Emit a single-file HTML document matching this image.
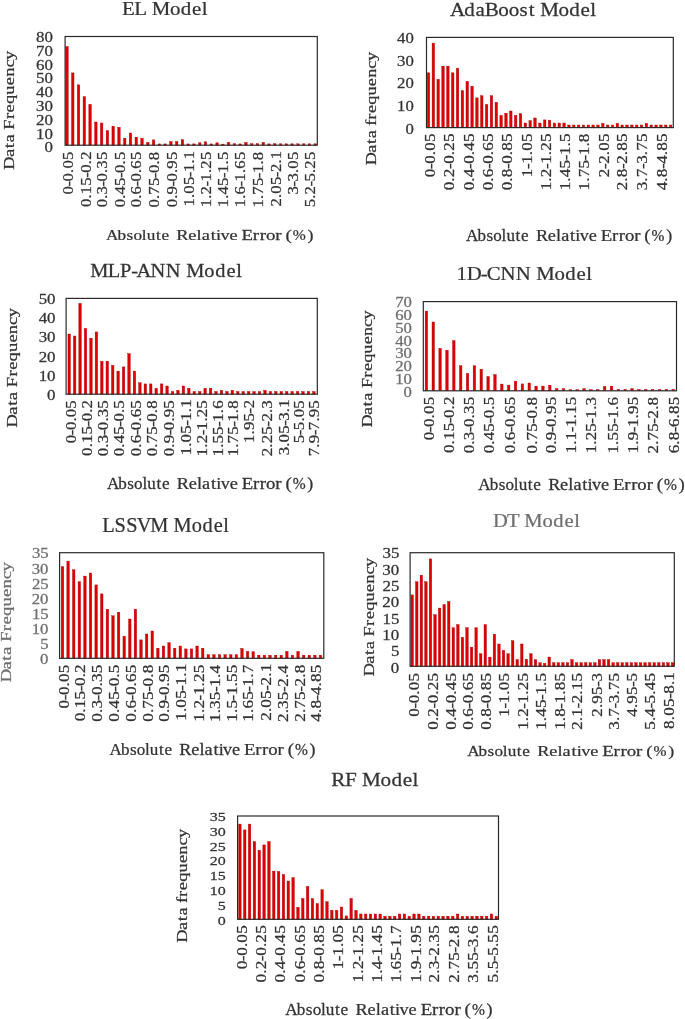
<!DOCTYPE html>
<html><head><meta charset="utf-8"><style>
html,body{margin:0;padding:0;background:#fff;}
svg{display:block;will-change:transform;}
text{font-family:"Liberation Serif",serif;white-space:pre;stroke-width:0.25px;}
rect{fill:#dc0000;stroke:#b00000;stroke-width:0.4;}
rect.bx{fill:none;stroke:#2a2a2a;stroke-width:1.2;}
</style></head><body>
<svg width="685" height="1019" viewBox="0 0 685 1019">
<rect x="65.75" y="46.5" width="2.5" height="98.7"/>
<rect x="71.52" y="72.9" width="2.5" height="72.3"/>
<rect x="77.29" y="84.8" width="2.5" height="60.4"/>
<rect x="83.07" y="96.7" width="2.5" height="48.5"/>
<rect x="88.84" y="104.3" width="2.5" height="40.9"/>
<rect x="94.61" y="122" width="2.5" height="23.2"/>
<rect x="100.38" y="123" width="2.5" height="22.2"/>
<rect x="106.15" y="130.6" width="2.5" height="14.6"/>
<rect x="111.93" y="126.2" width="2.5" height="19"/>
<rect x="117.7" y="127.3" width="2.5" height="17.9"/>
<rect x="123.47" y="138.2" width="2.5" height="7"/>
<rect x="129.24" y="133" width="2.5" height="12.2"/>
<rect x="135.02" y="137.2" width="2.5" height="8"/>
<rect x="140.79" y="138.3" width="2.5" height="6.9"/>
<rect x="146.56" y="142.4" width="2.5" height="2.8"/>
<rect x="152.33" y="139.9" width="2.5" height="5.3"/>
<rect x="158.1" y="143.9" width="2.5" height="1.3"/>
<rect x="163.88" y="143.9" width="2.5" height="1.3"/>
<rect x="169.65" y="141.5" width="2.5" height="3.7"/>
<rect x="175.42" y="141.5" width="2.5" height="3.7"/>
<rect x="181.19" y="139.6" width="2.5" height="5.6"/>
<rect x="186.96" y="143.9" width="2.5" height="1.3"/>
<rect x="192.74" y="143.9" width="2.5" height="1.3"/>
<rect x="198.51" y="142.8" width="2.5" height="2.4"/>
<rect x="204.28" y="141.8" width="2.5" height="3.4"/>
<rect x="210.05" y="143.9" width="2.5" height="1.3"/>
<rect x="215.82" y="142.8" width="2.5" height="2.4"/>
<rect x="221.6" y="144.1" width="2.5" height="1.1"/>
<rect x="227.37" y="142.4" width="2.5" height="2.8"/>
<rect x="233.14" y="143.7" width="2.5" height="1.5"/>
<rect x="238.91" y="143.9" width="2.5" height="1.3"/>
<rect x="244.68" y="142.4" width="2.5" height="2.8"/>
<rect x="250.46" y="143.7" width="2.5" height="1.5"/>
<rect x="256.23" y="143.7" width="2.5" height="1.5"/>
<rect x="262" y="142.4" width="2.5" height="2.8"/>
<rect x="267.77" y="143.9" width="2.5" height="1.3"/>
<rect x="273.55" y="143.7" width="2.5" height="1.5"/>
<rect x="279.32" y="143.8" width="2.5" height="1.4"/>
<rect x="285.09" y="143.8" width="2.5" height="1.4"/>
<rect x="290.86" y="143.8" width="2.5" height="1.4"/>
<rect x="296.63" y="143.8" width="2.5" height="1.4"/>
<rect x="302.41" y="143.8" width="2.5" height="1.4"/>
<rect x="308.18" y="143.8" width="2.5" height="1.4"/>
<rect x="313.95" y="143.8" width="2.5" height="1.4"/>
<rect class="bx" x="65.1" y="36.5" width="252.2" height="108.7"/>
<text x="113.35 124.64 136.08 140.75 157.68 167.74 178.25 187.24" y="0" transform="translate(0,14.8) scale(1.0774,1)" font-size="19.39" fill="#333" stroke="#333">EL Model</text>
<text x="36.29" y="0" transform="translate(0,152.38) scale(1.2270,1)" font-size="13.78" fill="#333" stroke="#333" stroke-width="0.15">0</text>
<text x="29.4 36.29" y="0" transform="translate(0,138.58) scale(1.2270,1)" font-size="13.78" fill="#333" stroke="#333" stroke-width="0.15">10</text>
<text x="29.4 36.29" y="0" transform="translate(0,124.78) scale(1.2270,1)" font-size="13.78" fill="#333" stroke="#333" stroke-width="0.15">20</text>
<text x="29.4 36.29" y="0" transform="translate(0,110.98) scale(1.2270,1)" font-size="13.78" fill="#333" stroke="#333" stroke-width="0.15">30</text>
<text x="29.4 36.29" y="0" transform="translate(0,97.18) scale(1.2270,1)" font-size="13.78" fill="#333" stroke="#333" stroke-width="0.15">40</text>
<text x="29.4 36.29" y="0" transform="translate(0,83.38) scale(1.2270,1)" font-size="13.78" fill="#333" stroke="#333" stroke-width="0.15">50</text>
<text x="29.4 36.29" y="0" transform="translate(0,69.58) scale(1.2270,1)" font-size="13.78" fill="#333" stroke="#333" stroke-width="0.15">60</text>
<text x="29.4 36.29" y="0" transform="translate(0,55.78) scale(1.2270,1)" font-size="13.78" fill="#333" stroke="#333" stroke-width="0.15">70</text>
<text x="29.4 36.29" y="0" transform="translate(0,41.98) scale(1.2270,1)" font-size="13.78" fill="#333" stroke="#333" stroke-width="0.15">80</text>
<text x="-1.27 8.37 15.02 19.34 25.73 29.14 37.15 42.25 48.63 55.69 62.88 69.28 76.29 82.08" y="0" transform="translate(14.2,168) rotate(-90) scale(1.3161,1)" font-size="14.05" fill="#333" stroke="#333">Data Frequency</text>
<text x="-0.7 6.46 11.11 18.77 22.67 30.38" y="0" transform="translate(73.07,193.7) rotate(-90) scale(1.1064,1)" font-size="15.02" fill="#333" stroke="#333" stroke-width="0.15">0-0.05</text>
<text x="-0.72 6.91 10.78 18.44 25.57 30.18 37.8 41.67" y="0" transform="translate(90.57,206.21) rotate(-90) scale(1.1130,1)" font-size="15.02" fill="#333" stroke="#333" stroke-width="0.15">0.15-0.2</text>
<text x="-0.72 6.91 10.78 17.9 22.51 30.14 34.01 41.67" y="0" transform="translate(107.07,206.49) rotate(-90) scale(1.1130,1)" font-size="15.02" fill="#333" stroke="#333" stroke-width="0.15">0.3-0.35</text>
<text x="-0.72 6.91 10.78 18.44 25.57 30.18 37.8 41.67" y="0" transform="translate(124.57,206.49) rotate(-90) scale(1.1130,1)" font-size="15.02" fill="#333" stroke="#333" stroke-width="0.15">0.45-0.5</text>
<text x="-0.72 6.91 10.78 17.9 22.51 30.14 34.01 41.67" y="0" transform="translate(141.37,206.49) rotate(-90) scale(1.1130,1)" font-size="15.02" fill="#333" stroke="#333" stroke-width="0.15">0.6-0.65</text>
<text x="-0.72 6.91 10.78 18.44 25.57 30.18 37.8 41.67" y="0" transform="translate(158.87,206.62) rotate(-90) scale(1.1130,1)" font-size="15.02" fill="#333" stroke="#333" stroke-width="0.15">0.75-0.8</text>
<text x="-0.72 6.91 10.78 17.9 22.51 30.14 34.01 41.67" y="0" transform="translate(176.57,206.49) rotate(-90) scale(1.1130,1)" font-size="15.02" fill="#333" stroke="#333" stroke-width="0.15">0.9-0.95</text>
<text x="-1.39 6.23 10.1 17.77 24.89 29.5 37.13 41" y="0" transform="translate(194.17,204.87) rotate(-90) scale(1.1130,1)" font-size="15.02" fill="#333" stroke="#333" stroke-width="0.15">1.05-1.1</text>
<text x="-1.39 6.23 10.1 17.22 21.84 29.46 33.33 41" y="0" transform="translate(210.87,205.74) rotate(-90) scale(1.1130,1)" font-size="15.02" fill="#333" stroke="#333" stroke-width="0.15">1.2-1.25</text>
<text x="-1.39 6.23 10.1 17.77 24.89 29.5 37.13 41" y="0" transform="translate(227.67,205.74) rotate(-90) scale(1.1130,1)" font-size="15.02" fill="#333" stroke="#333" stroke-width="0.15">1.45-1.5</text>
<text x="-1.39 6.23 10.1 17.22 21.84 29.46 33.33 41" y="0" transform="translate(245.17,205.74) rotate(-90) scale(1.1130,1)" font-size="15.02" fill="#333" stroke="#333" stroke-width="0.15">1.6-1.65</text>
<text x="-1.39 6.23 10.1 17.77 24.89 29.5 37.13 41" y="0" transform="translate(263.07,205.87) rotate(-90) scale(1.1130,1)" font-size="15.02" fill="#333" stroke="#333" stroke-width="0.15">1.75-1.8</text>
<text x="-0.74 6.89 10.76 18.42 25.54 30.16 37.78 41.65" y="0" transform="translate(281.07,205.6) rotate(-90) scale(1.1130,1)" font-size="15.02" fill="#333" stroke="#333" stroke-width="0.15">2.05-2.1</text>
<text x="-0.82 6.33 10.98 18.64 22.55 30.26" y="0" transform="translate(298.07,193.56) rotate(-90) scale(1.1064,1)" font-size="15.02" fill="#333" stroke="#333" stroke-width="0.15">3-3.05</text>
<text x="-0.95 6.68 10.55 17.67 22.29 29.91 33.78 41.45" y="0" transform="translate(315.47,206.24) rotate(-90) scale(1.1130,1)" font-size="15.02" fill="#333" stroke="#333" stroke-width="0.15">5.2-5.25</text>
<text x="94.19 104.35 112.36 118.45 125.87 130.17 138.37 143.27" y="0" transform="translate(0,239.6) scale(1.1268,1)" font-size="15.27" fill="#333" stroke="#333">Absolute</text>
<text x="147.07 157.04 163.91 168.27 175.67 180.11 183.85 191.38" y="0" transform="translate(0,239.6) scale(1.1991,1)" font-size="15.27" fill="#333" stroke="#333">Relative</text>
<text x="195.46 204.62 210.19 215.2 222.76" y="0" transform="translate(0,239.6) scale(1.2357,1)" font-size="15.27" fill="#333" stroke="#333">Error</text>
<text x="229" y="0" transform="translate(0,239.6) scale(1.2467,1)" font-size="15.27" fill="#333" stroke="#333">(</text>
<text x="286.69" y="0" transform="translate(0,239.6) scale(1.0213,1)" font-size="15.27" fill="#333" stroke="#333">%</text>
<text x="260.82" y="0" transform="translate(0,239.6) scale(1.1787,1)" font-size="15.27" fill="#333" stroke="#333">)</text>
<rect x="427.25" y="72.8" width="2.5" height="54.8"/>
<rect x="432.09" y="43.1" width="2.5" height="84.5"/>
<rect x="436.93" y="79.3" width="2.5" height="48.3"/>
<rect x="441.78" y="66.1" width="2.5" height="61.5"/>
<rect x="446.62" y="66.1" width="2.5" height="61.5"/>
<rect x="451.46" y="72.8" width="2.5" height="54.8"/>
<rect x="456.3" y="68.2" width="2.5" height="59.4"/>
<rect x="461.14" y="90.6" width="2.5" height="37"/>
<rect x="465.99" y="81.4" width="2.5" height="46.2"/>
<rect x="470.83" y="86.2" width="2.5" height="41.4"/>
<rect x="475.67" y="97.9" width="2.5" height="29.7"/>
<rect x="480.51" y="95.7" width="2.5" height="31.9"/>
<rect x="485.35" y="104.5" width="2.5" height="23.1"/>
<rect x="490.2" y="95.7" width="2.5" height="31.9"/>
<rect x="495.04" y="102.3" width="2.5" height="25.3"/>
<rect x="499.88" y="115.4" width="2.5" height="12.2"/>
<rect x="504.72" y="113.2" width="2.5" height="14.4"/>
<rect x="509.56" y="111" width="2.5" height="16.6"/>
<rect x="514.41" y="115.4" width="2.5" height="12.2"/>
<rect x="519.25" y="113.6" width="2.5" height="14"/>
<rect x="524.09" y="123" width="2.5" height="4.6"/>
<rect x="528.93" y="120.6" width="2.5" height="7"/>
<rect x="533.77" y="118" width="2.5" height="9.6"/>
<rect x="538.62" y="123" width="2.5" height="4.6"/>
<rect x="543.46" y="119.9" width="2.5" height="7.7"/>
<rect x="548.3" y="120.1" width="2.5" height="7.5"/>
<rect x="553.14" y="123" width="2.5" height="4.6"/>
<rect x="557.98" y="123" width="2.5" height="4.6"/>
<rect x="562.83" y="123" width="2.5" height="4.6"/>
<rect x="567.67" y="125" width="2.5" height="2.6"/>
<rect x="572.51" y="125" width="2.5" height="2.6"/>
<rect x="577.35" y="125" width="2.5" height="2.6"/>
<rect x="582.19" y="125" width="2.5" height="2.6"/>
<rect x="587.04" y="125" width="2.5" height="2.6"/>
<rect x="591.88" y="125" width="2.5" height="2.6"/>
<rect x="596.72" y="125" width="2.5" height="2.6"/>
<rect x="601.56" y="123.3" width="2.5" height="4.3"/>
<rect x="606.4" y="125" width="2.5" height="2.6"/>
<rect x="611.25" y="125" width="2.5" height="2.6"/>
<rect x="616.09" y="123.3" width="2.5" height="4.3"/>
<rect x="620.93" y="125" width="2.5" height="2.6"/>
<rect x="625.77" y="125" width="2.5" height="2.6"/>
<rect x="630.61" y="125" width="2.5" height="2.6"/>
<rect x="635.46" y="125" width="2.5" height="2.6"/>
<rect x="640.3" y="125" width="2.5" height="2.6"/>
<rect x="645.14" y="123.3" width="2.5" height="4.3"/>
<rect x="649.98" y="125" width="2.5" height="2.6"/>
<rect x="654.82" y="125" width="2.5" height="2.6"/>
<rect x="659.67" y="125" width="2.5" height="2.6"/>
<rect x="664.51" y="125" width="2.5" height="2.6"/>
<rect x="669.35" y="125" width="2.5" height="2.6"/>
<rect class="bx" x="426.5" y="37.4" width="246.8" height="90.2"/>
<text x="420.43 433.7 444.31 452.93 465.45 475.24 485.4 493.94 500.07 504.68 521.74 531.84 542.41 551.46" y="0" transform="translate(0,15.6) scale(1.0703,1)" font-size="19.69" fill="#333" stroke="#333">AdaBoost Model</text>
<text x="330.4" y="0" transform="translate(0,133.94) scale(1.2270,1)" font-size="13.63" fill="#333" stroke="#333" stroke-width="0.15">0</text>
<text x="323.59 330.4" y="0" transform="translate(0,111.21) scale(1.2270,1)" font-size="13.63" fill="#333" stroke="#333" stroke-width="0.15">10</text>
<text x="323.59 330.4" y="0" transform="translate(0,88.49) scale(1.2270,1)" font-size="13.63" fill="#333" stroke="#333" stroke-width="0.15">20</text>
<text x="323.59 330.4" y="0" transform="translate(0,65.76) scale(1.2270,1)" font-size="13.63" fill="#333" stroke="#333" stroke-width="0.15">30</text>
<text x="323.59 330.4" y="0" transform="translate(0,43.04) scale(1.2270,1)" font-size="13.63" fill="#333" stroke="#333" stroke-width="0.15">40</text>
<text x="-1.31 8.79 15.76 20.3 26.99 30.35 35.24 40.59 47.28 54.69 62.22 68.94 76.29 82.36" y="0" transform="translate(375.6,163.6) rotate(-90) scale(1.2448,1)" font-size="14.66" fill="#333" stroke="#333">Data frequency</text>
<text x="-0.71 6.62 11.38 19.23 23.23 31.12" y="0" transform="translate(434.69,176.4) rotate(-90) scale(1.1064,1)" font-size="15.38" fill="#333" stroke="#333" stroke-width="0.15">0-0.05</text>
<text x="-0.73 7.08 11.04 18.34 23.06 30.87 34.84 42.69" y="0" transform="translate(453.69,189.51) rotate(-90) scale(1.1130,1)" font-size="15.38" fill="#333" stroke="#333" stroke-width="0.15">0.2-0.25</text>
<text x="-0.73 7.08 11.04 18.34 23.06 30.87 34.84 42.69" y="0" transform="translate(473.69,189.51) rotate(-90) scale(1.1130,1)" font-size="15.38" fill="#333" stroke="#333" stroke-width="0.15">0.4-0.45</text>
<text x="-0.73 7.08 11.04 18.34 23.06 30.87 34.84 42.69" y="0" transform="translate(492.69,189.51) rotate(-90) scale(1.1130,1)" font-size="15.38" fill="#333" stroke="#333" stroke-width="0.15">0.6-0.65</text>
<text x="-0.73 7.08 11.04 18.34 23.06 30.87 34.84 42.69" y="0" transform="translate(512.09,189.51) rotate(-90) scale(1.1130,1)" font-size="15.38" fill="#333" stroke="#333" stroke-width="0.15">0.8-0.85</text>
<text x="-1.41 5.92 10.68 18.53 22.53 30.43" y="0" transform="translate(531.59,175.63) rotate(-90) scale(1.1064,1)" font-size="15.38" fill="#333" stroke="#333" stroke-width="0.15">1-1.05</text>
<text x="-1.43 6.38 10.35 17.64 22.37 30.18 34.15 42" y="0" transform="translate(550.59,188.73) rotate(-90) scale(1.1130,1)" font-size="15.38" fill="#333" stroke="#333" stroke-width="0.15">1.2-1.25</text>
<text x="-1.43 6.38 10.35 18.2 25.5 30.22 38.03 42" y="0" transform="translate(570.29,188.73) rotate(-90) scale(1.1130,1)" font-size="15.38" fill="#333" stroke="#333" stroke-width="0.15">1.45-1.5</text>
<text x="-1.43 6.38 10.35 18.2 25.5 30.22 38.03 42" y="0" transform="translate(589.29,188.87) rotate(-90) scale(1.1130,1)" font-size="15.38" fill="#333" stroke="#333" stroke-width="0.15">1.75-1.8</text>
<text x="-0.74 6.59 11.36 19.2 23.2 31.1" y="0" transform="translate(609.19,176.37) rotate(-90) scale(1.1064,1)" font-size="15.38" fill="#333" stroke="#333" stroke-width="0.15">2-2.05</text>
<text x="-0.76 7.05 11.02 18.31 23.04 30.85 34.81 42.67" y="0" transform="translate(627.49,189.48) rotate(-90) scale(1.1130,1)" font-size="15.38" fill="#333" stroke="#333" stroke-width="0.15">2.8-2.85</text>
<text x="-0.86 6.95 10.91 18.21 22.94 30.75 34.71 42.56" y="0" transform="translate(646.79,189.36) rotate(-90) scale(1.1130,1)" font-size="15.38" fill="#333" stroke="#333" stroke-width="0.15">3.7-3.75</text>
<text x="-0.3 7.51 11.48 18.77 23.5 31.31 35.27 43.12" y="0" transform="translate(667.19,189.99) rotate(-90) scale(1.1130,1)" font-size="15.38" fill="#333" stroke="#333" stroke-width="0.15">4.8-4.85</text>
<text x="437.15 447.82 456.24 462.62 470.42 474.93 483.54 488.69" y="0" transform="translate(0,241.4) scale(1.0663,1)" font-size="16.03" fill="#333" stroke="#333">Absolute</text>
<text x="472.28 482.75 489.96 494.54 502.31 506.97 510.9 518.81" y="0" transform="translate(0,241.4) scale(1.1347,1)" font-size="16.03" fill="#333" stroke="#333">Relative</text>
<text x="513.66 523.27 529.12 534.38 542.32" y="0" transform="translate(0,241.4) scale(1.1694,1)" font-size="16.03" fill="#333" stroke="#333">Error</text>
<text x="546.17" y="0" transform="translate(0,241.4) scale(1.1798,1)" font-size="16.03" fill="#333" stroke="#333">(</text>
<text x="674.21" y="0" transform="translate(0,241.4) scale(0.9665,1)" font-size="16.03" fill="#333" stroke="#333">%</text>
<text x="597.22" y="0" transform="translate(0,241.4) scale(1.1154,1)" font-size="16.03" fill="#333" stroke="#333">)</text>
<rect x="67.95" y="334" width="2.5" height="60.2"/>
<rect x="73.39" y="336" width="2.5" height="58.2"/>
<rect x="78.83" y="303.4" width="2.5" height="90.8"/>
<rect x="84.26" y="328.4" width="2.5" height="65.8"/>
<rect x="89.7" y="338.2" width="2.5" height="56"/>
<rect x="95.14" y="331.9" width="2.5" height="62.3"/>
<rect x="100.58" y="361.2" width="2.5" height="33"/>
<rect x="106.01" y="361.2" width="2.5" height="33"/>
<rect x="111.45" y="365.4" width="2.5" height="28.8"/>
<rect x="116.89" y="371.1" width="2.5" height="23.1"/>
<rect x="122.33" y="366.9" width="2.5" height="27.3"/>
<rect x="127.77" y="353.6" width="2.5" height="40.6"/>
<rect x="133.2" y="371.1" width="2.5" height="23.1"/>
<rect x="138.64" y="382.8" width="2.5" height="11.4"/>
<rect x="144.08" y="383.9" width="2.5" height="10.3"/>
<rect x="149.52" y="383.9" width="2.5" height="10.3"/>
<rect x="154.95" y="388.3" width="2.5" height="5.9"/>
<rect x="160.39" y="383.9" width="2.5" height="10.3"/>
<rect x="165.83" y="386" width="2.5" height="8.2"/>
<rect x="171.27" y="391.5" width="2.5" height="2.7"/>
<rect x="176.71" y="390.3" width="2.5" height="3.9"/>
<rect x="182.14" y="386" width="2.5" height="8.2"/>
<rect x="187.58" y="388.3" width="2.5" height="5.9"/>
<rect x="193.02" y="391.5" width="2.5" height="2.7"/>
<rect x="198.46" y="391.5" width="2.5" height="2.7"/>
<rect x="203.89" y="388.3" width="2.5" height="5.9"/>
<rect x="209.33" y="388.3" width="2.5" height="5.9"/>
<rect x="214.77" y="391.5" width="2.5" height="2.7"/>
<rect x="220.21" y="390.3" width="2.5" height="3.9"/>
<rect x="225.65" y="391.5" width="2.5" height="2.7"/>
<rect x="231.08" y="390.3" width="2.5" height="3.9"/>
<rect x="236.52" y="391.5" width="2.5" height="2.7"/>
<rect x="241.96" y="391.5" width="2.5" height="2.7"/>
<rect x="247.4" y="391.5" width="2.5" height="2.7"/>
<rect x="252.83" y="391.5" width="2.5" height="2.7"/>
<rect x="258.27" y="391.5" width="2.5" height="2.7"/>
<rect x="263.71" y="390.3" width="2.5" height="3.9"/>
<rect x="269.15" y="391.5" width="2.5" height="2.7"/>
<rect x="274.59" y="391.5" width="2.5" height="2.7"/>
<rect x="280.02" y="391.5" width="2.5" height="2.7"/>
<rect x="285.46" y="391.5" width="2.5" height="2.7"/>
<rect x="290.9" y="391.5" width="2.5" height="2.7"/>
<rect x="296.34" y="391.5" width="2.5" height="2.7"/>
<rect x="301.77" y="391.5" width="2.5" height="2.7"/>
<rect x="307.21" y="391.5" width="2.5" height="2.7"/>
<rect x="312.65" y="391.5" width="2.5" height="2.7"/>
<rect class="bx" x="66.1" y="298.4" width="251.2" height="95.8"/>
<text x="84.94 101.52 113.05 123.51 128.49 141.64 156.04 170.4 175.3 192.43 202.65 213.33 222.43" y="0" transform="translate(0,276.8) scale(1.0618,1)" font-size="19.24" fill="#333" stroke="#333">MLP-ANN Model</text>
<text x="38.41" y="0" transform="translate(0,399.78) scale(1.2270,1)" font-size="13.78" fill="#333" stroke="#333" stroke-width="0.15">0</text>
<text x="31.52 38.41" y="0" transform="translate(0,380.66) scale(1.2270,1)" font-size="13.78" fill="#333" stroke="#333" stroke-width="0.15">10</text>
<text x="31.52 38.41" y="0" transform="translate(0,361.54) scale(1.2270,1)" font-size="13.78" fill="#333" stroke="#333" stroke-width="0.15">20</text>
<text x="31.52 38.41" y="0" transform="translate(0,342.42) scale(1.2270,1)" font-size="13.78" fill="#333" stroke="#333" stroke-width="0.15">30</text>
<text x="31.52 38.41" y="0" transform="translate(0,323.3) scale(1.2270,1)" font-size="13.78" fill="#333" stroke="#333" stroke-width="0.15">40</text>
<text x="31.52 38.41" y="0" transform="translate(0,304.18) scale(1.2270,1)" font-size="13.78" fill="#333" stroke="#333" stroke-width="0.15">50</text>
<text x="-1.3 8.55 15.35 19.76 26.29 29.77 37.96 43.17 49.69 56.9 64.25 70.79 77.95 83.87" y="0" transform="translate(16.5,425.7) rotate(-90) scale(1.2936,1)" font-size="14.35" fill="#333" stroke="#333">Data Frequency</text>
<text x="-0.7 6.51 11.19 18.9 22.84 30.61" y="0" transform="translate(75.51,442.5) rotate(-90) scale(1.1064,1)" font-size="15.13" fill="#333" stroke="#333" stroke-width="0.15">0-0.05</text>
<text x="-0.72 6.96 10.86 18.58 25.75 30.4 38.08 41.98" y="0" transform="translate(91.91,455.1) rotate(-90) scale(1.1130,1)" font-size="15.13" fill="#333" stroke="#333" stroke-width="0.15">0.15-0.2</text>
<text x="-0.72 6.96 10.86 18.03 22.68 30.36 34.26 41.98" y="0" transform="translate(107.61,455.39) rotate(-90) scale(1.1130,1)" font-size="15.13" fill="#333" stroke="#333" stroke-width="0.15">0.3-0.35</text>
<text x="-0.72 6.96 10.86 18.58 25.75 30.4 38.08 41.98" y="0" transform="translate(124.41,455.39) rotate(-90) scale(1.1130,1)" font-size="15.13" fill="#333" stroke="#333" stroke-width="0.15">0.45-0.5</text>
<text x="-0.72 6.96 10.86 18.03 22.68 30.36 34.26 41.98" y="0" transform="translate(140.51,455.39) rotate(-90) scale(1.1130,1)" font-size="15.13" fill="#333" stroke="#333" stroke-width="0.15">0.6-0.65</text>
<text x="-0.72 6.96 10.86 18.58 25.75 30.4 38.08 41.98" y="0" transform="translate(157.21,455.52) rotate(-90) scale(1.1130,1)" font-size="15.13" fill="#333" stroke="#333" stroke-width="0.15">0.75-0.8</text>
<text x="-0.72 6.96 10.86 18.03 22.68 30.36 34.26 41.98" y="0" transform="translate(174.41,455.39) rotate(-90) scale(1.1130,1)" font-size="15.13" fill="#333" stroke="#333" stroke-width="0.15">0.9-0.95</text>
<text x="-1.4 6.28 10.18 17.9 25.07 29.72 37.4 41.3" y="0" transform="translate(191.21,453.75) rotate(-90) scale(1.1130,1)" font-size="15.13" fill="#333" stroke="#333" stroke-width="0.15">1.05-1.1</text>
<text x="-1.4 6.28 10.18 17.35 22 29.68 33.58 41.3" y="0" transform="translate(207.31,454.63) rotate(-90) scale(1.1130,1)" font-size="15.13" fill="#333" stroke="#333" stroke-width="0.15">1.2-1.25</text>
<text x="-1.4 6.28 10.18 17.9 25.07 29.72 37.4 41.3" y="0" transform="translate(222.61,454.82) rotate(-90) scale(1.1130,1)" font-size="15.13" fill="#333" stroke="#333" stroke-width="0.15">1.55-1.6</text>
<text x="-1.4 6.28 10.18 17.9 25.07 29.72 37.4 41.3" y="0" transform="translate(237.91,454.76) rotate(-90) scale(1.1130,1)" font-size="15.13" fill="#333" stroke="#333" stroke-width="0.15">1.75-1.8</text>
<text x="-1.39 6.33 10.26 18.03 25.24 29.92" y="0" transform="translate(254.41,441.46) rotate(-90) scale(1.1064,1)" font-size="15.13" fill="#333" stroke="#333" stroke-width="0.15">1.95-2</text>
<text x="-0.75 6.94 10.83 18.56 25.73 30.38 38.06 41.96" y="0" transform="translate(272.41,455.4) rotate(-90) scale(1.1130,1)" font-size="15.13" fill="#333" stroke="#333" stroke-width="0.15">2.25-2.3</text>
<text x="-0.85 6.83 10.73 18.45 25.63 30.28 37.96 41.86" y="0" transform="translate(289.11,454.37) rotate(-90) scale(1.1130,1)" font-size="15.13" fill="#333" stroke="#333" stroke-width="0.15">3.05-3.1</text>
<text x="-0.94 6.27 10.96 18.67 22.61 30.37" y="0" transform="translate(304.01,442.24) rotate(-90) scale(1.1064,1)" font-size="15.13" fill="#333" stroke="#333" stroke-width="0.15">5-5.05</text>
<text x="-0.94 6.74 10.64 17.81 22.46 30.14 34.04 41.76" y="0" transform="translate(319.21,455.14) rotate(-90) scale(1.1130,1)" font-size="15.13" fill="#333" stroke="#333" stroke-width="0.15">7.9-7.95</text>
<text x="98.23 108.7 116.95 123.22 130.87 135.29 143.73 148.79" y="0" transform="translate(0,489.3) scale(1.0886,1)" font-size="15.73" fill="#333" stroke="#333">Absolute</text>
<text x="152.63 162.89 169.97 174.46 182.08 186.65 190.5 198.27" y="0" transform="translate(0,489.3) scale(1.1585,1)" font-size="15.73" fill="#333" stroke="#333">Relative</text>
<text x="202.44 211.87 217.6 222.76 230.55" y="0" transform="translate(0,489.3) scale(1.1939,1)" font-size="15.73" fill="#333" stroke="#333">Error</text>
<text x="236.97" y="0" transform="translate(0,489.3) scale(1.2045,1)" font-size="15.73" fill="#333" stroke="#333">(</text>
<text x="296.63" y="0" transform="translate(0,489.3) scale(0.9867,1)" font-size="15.73" fill="#333" stroke="#333">%</text>
<text x="269.81" y="0" transform="translate(0,489.3) scale(1.1388,1)" font-size="15.73" fill="#333" stroke="#333">)</text>
<rect x="425.15" y="311.1" width="2.5" height="79.7"/>
<rect x="432.01" y="322" width="2.5" height="68.8"/>
<rect x="438.86" y="348.3" width="2.5" height="42.5"/>
<rect x="445.72" y="350.2" width="2.5" height="40.6"/>
<rect x="452.57" y="340.7" width="2.5" height="50.1"/>
<rect x="459.43" y="365.8" width="2.5" height="25"/>
<rect x="466.28" y="373.4" width="2.5" height="17.4"/>
<rect x="473.14" y="365.8" width="2.5" height="25"/>
<rect x="479.99" y="369.2" width="2.5" height="21.6"/>
<rect x="486.85" y="376.5" width="2.5" height="14.3"/>
<rect x="493.71" y="374.6" width="2.5" height="16.2"/>
<rect x="500.56" y="384.1" width="2.5" height="6.7"/>
<rect x="507.42" y="385.1" width="2.5" height="5.7"/>
<rect x="514.27" y="381.1" width="2.5" height="9.7"/>
<rect x="521.13" y="383.9" width="2.5" height="6.9"/>
<rect x="527.98" y="383" width="2.5" height="7.8"/>
<rect x="534.84" y="386.1" width="2.5" height="4.7"/>
<rect x="541.69" y="386.1" width="2.5" height="4.7"/>
<rect x="548.55" y="385.2" width="2.5" height="5.6"/>
<rect x="555.41" y="388.6" width="2.5" height="2.2"/>
<rect x="562.26" y="388.6" width="2.5" height="2.2"/>
<rect x="569.12" y="389.6" width="2.5" height="1.2"/>
<rect x="575.97" y="389.6" width="2.5" height="1.2"/>
<rect x="582.83" y="388.6" width="2.5" height="2.2"/>
<rect x="589.68" y="389.6" width="2.5" height="1.2"/>
<rect x="596.54" y="389.5" width="2.5" height="1.3"/>
<rect x="603.39" y="386.4" width="2.5" height="4.4"/>
<rect x="610.25" y="386.1" width="2.5" height="4.7"/>
<rect x="617.11" y="389.4" width="2.5" height="1.4"/>
<rect x="623.96" y="389.4" width="2.5" height="1.4"/>
<rect x="630.82" y="388.5" width="2.5" height="2.3"/>
<rect x="637.67" y="389.4" width="2.5" height="1.4"/>
<rect x="644.53" y="389.4" width="2.5" height="1.4"/>
<rect x="651.38" y="389.4" width="2.5" height="1.4"/>
<rect x="658.24" y="389.4" width="2.5" height="1.4"/>
<rect x="665.09" y="389.4" width="2.5" height="1.4"/>
<rect x="671.95" y="389.4" width="2.5" height="1.4"/>
<rect class="bx" x="423.3" y="301.6" width="253.2" height="89.2"/>
<text x="415.17 424.47 437.2 442.79 455.28 469.17 483.1 487.7 504.29 514.14 524.45 533.25" y="0" transform="translate(0,280.2) scale(1.0994,1)" font-size="18.93" fill="#333" stroke="#333">1D-CNN Model</text>
<text x="328.86" y="0" transform="translate(0,396.94) scale(1.2270,1)" font-size="13.63" fill="#6e6e6e" stroke="#6e6e6e" stroke-width="0.15">0</text>
<text x="322.04 328.86" y="0" transform="translate(0,384.11) scale(1.2270,1)" font-size="13.63" fill="#6e6e6e" stroke="#6e6e6e" stroke-width="0.15">10</text>
<text x="322.04 328.86" y="0" transform="translate(0,371.28) scale(1.2270,1)" font-size="13.63" fill="#6e6e6e" stroke="#6e6e6e" stroke-width="0.15">20</text>
<text x="322.04 328.86" y="0" transform="translate(0,358.45) scale(1.2270,1)" font-size="13.63" fill="#6e6e6e" stroke="#6e6e6e" stroke-width="0.15">30</text>
<text x="322.04 328.86" y="0" transform="translate(0,345.62) scale(1.2270,1)" font-size="13.63" fill="#6e6e6e" stroke="#6e6e6e" stroke-width="0.15">40</text>
<text x="322.04 328.86" y="0" transform="translate(0,332.79) scale(1.2270,1)" font-size="13.63" fill="#6e6e6e" stroke="#6e6e6e" stroke-width="0.15">50</text>
<text x="322.04 328.86" y="0" transform="translate(0,319.97) scale(1.2270,1)" font-size="13.63" fill="#6e6e6e" stroke="#6e6e6e" stroke-width="0.15">60</text>
<text x="322.04 328.86" y="0" transform="translate(0,307.14) scale(1.2270,1)" font-size="13.63" fill="#6e6e6e" stroke="#6e6e6e" stroke-width="0.15">70</text>
<text x="-1.37 9.01 16.17 20.81 27.69 31.36 39.98 45.47 52.33 59.93 67.67 74.55 82.1 88.33" y="0" transform="translate(371.7,425.9) rotate(-90) scale(1.2052,1)" font-size="15.11" fill="#333" stroke="#333">Data Frequency</text>
<text x="-0.71 6.57 11.3 19.09 23.06 30.9" y="0" transform="translate(434.26,439.5) rotate(-90) scale(1.1064,1)" font-size="15.27" fill="#333" stroke="#333" stroke-width="0.15">0-0.05</text>
<text x="-0.73 7.03 10.96 18.76 26 30.7 38.45 42.39" y="0" transform="translate(453.96,452.23) rotate(-90) scale(1.1130,1)" font-size="15.27" fill="#333" stroke="#333" stroke-width="0.15">0.15-0.2</text>
<text x="-0.73 7.03 10.96 18.21 22.9 30.65 34.59 42.39" y="0" transform="translate(473.66,452.51) rotate(-90) scale(1.1130,1)" font-size="15.27" fill="#333" stroke="#333" stroke-width="0.15">0.3-0.35</text>
<text x="-0.73 7.03 10.96 18.76 26 30.7 38.45 42.39" y="0" transform="translate(494.16,452.51) rotate(-90) scale(1.1130,1)" font-size="15.27" fill="#333" stroke="#333" stroke-width="0.15">0.45-0.5</text>
<text x="-0.73 7.03 10.96 18.21 22.9 30.65 34.59 42.39" y="0" transform="translate(514.96,452.51) rotate(-90) scale(1.1130,1)" font-size="15.27" fill="#333" stroke="#333" stroke-width="0.15">0.6-0.65</text>
<text x="-0.73 7.03 10.96 18.76 26 30.7 38.45 42.39" y="0" transform="translate(536.66,452.65) rotate(-90) scale(1.1130,1)" font-size="15.27" fill="#333" stroke="#333" stroke-width="0.15">0.75-0.8</text>
<text x="-0.73 7.03 10.96 18.21 22.9 30.65 34.59 42.39" y="0" transform="translate(555.66,452.51) rotate(-90) scale(1.1130,1)" font-size="15.27" fill="#333" stroke="#333" stroke-width="0.15">0.9-0.95</text>
<text x="-1.42 6.34 10.27 17.52 22.21 29.97 33.9 41.7" y="0" transform="translate(576.06,451.75) rotate(-90) scale(1.1130,1)" font-size="15.27" fill="#333" stroke="#333" stroke-width="0.15">1.1-1.15</text>
<text x="-1.42 6.34 10.27 18.07 25.31 30.01 37.76 41.7" y="0" transform="translate(595.86,451.79) rotate(-90) scale(1.1130,1)" font-size="15.27" fill="#333" stroke="#333" stroke-width="0.15">1.25-1.3</text>
<text x="-1.42 6.34 10.27 18.07 25.31 30.01 37.76 41.7" y="0" transform="translate(618.16,451.94) rotate(-90) scale(1.1130,1)" font-size="15.27" fill="#333" stroke="#333" stroke-width="0.15">1.55-1.6</text>
<text x="-1.42 6.34 10.27 17.52 22.21 29.97 33.9 41.7" y="0" transform="translate(638.06,451.75) rotate(-90) scale(1.1130,1)" font-size="15.27" fill="#333" stroke="#333" stroke-width="0.15">1.9-1.95</text>
<text x="-0.75 7 10.94 18.73 25.98 30.67 38.43 42.36" y="0" transform="translate(657.86,452.62) rotate(-90) scale(1.1130,1)" font-size="15.27" fill="#333" stroke="#333" stroke-width="0.15">2.75-2.8</text>
<text x="-0.74 7.01 10.95 18.19 22.89 30.64 34.58 42.37" y="0" transform="translate(678.96,452.5) rotate(-90) scale(1.1130,1)" font-size="15.27" fill="#333" stroke="#333" stroke-width="0.15">6.8-6.85</text>
<text x="443.66 454.23 462.57 468.9 476.62 481.08 489.61 494.71" y="0" transform="translate(0,489.5) scale(1.0781,1)" font-size="15.88" fill="#333" stroke="#333">Absolute</text>
<text x="477.82 488.19 495.33 499.87 507.56 512.17 516.07 523.9" y="0" transform="translate(0,489.5) scale(1.1473,1)" font-size="15.88" fill="#333" stroke="#333">Relative</text>
<text x="518.5 528.02 533.81 539.03 546.89" y="0" transform="translate(0,489.5) scale(1.1824,1)" font-size="15.88" fill="#333" stroke="#333">Error</text>
<text x="550.61" y="0" transform="translate(0,489.5) scale(1.1929,1)" font-size="15.88" fill="#333" stroke="#333">(</text>
<text x="679.57" y="0" transform="translate(0,489.5) scale(0.9772,1)" font-size="15.88" fill="#333" stroke="#333">%</text>
<text x="601.74" y="0" transform="translate(0,489.5) scale(1.1278,1)" font-size="15.88" fill="#333" stroke="#333">)</text>
<rect x="61.25" y="566.6" width="2.5" height="91.7"/>
<rect x="66.86" y="561.1" width="2.5" height="97.2"/>
<rect x="72.47" y="569.8" width="2.5" height="88.5"/>
<rect x="78.08" y="581.8" width="2.5" height="76.5"/>
<rect x="83.68" y="576.1" width="2.5" height="82.2"/>
<rect x="89.29" y="573" width="2.5" height="85.3"/>
<rect x="94.9" y="584.9" width="2.5" height="73.4"/>
<rect x="100.51" y="593.9" width="2.5" height="64.4"/>
<rect x="106.12" y="609.2" width="2.5" height="49.1"/>
<rect x="111.73" y="615.8" width="2.5" height="42.5"/>
<rect x="117.34" y="612.2" width="2.5" height="46.1"/>
<rect x="122.95" y="636.2" width="2.5" height="22.1"/>
<rect x="128.55" y="619" width="2.5" height="39.3"/>
<rect x="134.16" y="609.2" width="2.5" height="49.1"/>
<rect x="139.77" y="639.9" width="2.5" height="18.4"/>
<rect x="145.38" y="634" width="2.5" height="24.3"/>
<rect x="150.99" y="631" width="2.5" height="27.3"/>
<rect x="156.6" y="648.2" width="2.5" height="10.1"/>
<rect x="162.21" y="646" width="2.5" height="12.3"/>
<rect x="167.82" y="642.8" width="2.5" height="15.5"/>
<rect x="173.42" y="648.2" width="2.5" height="10.1"/>
<rect x="179.03" y="646" width="2.5" height="12.3"/>
<rect x="184.64" y="648.9" width="2.5" height="9.4"/>
<rect x="190.25" y="648.9" width="2.5" height="9.4"/>
<rect x="195.86" y="646" width="2.5" height="12.3"/>
<rect x="201.47" y="648.2" width="2.5" height="10.1"/>
<rect x="207.08" y="654.7" width="2.5" height="3.6"/>
<rect x="212.68" y="654.7" width="2.5" height="3.6"/>
<rect x="218.29" y="654.7" width="2.5" height="3.6"/>
<rect x="223.9" y="654.7" width="2.5" height="3.6"/>
<rect x="229.51" y="654.7" width="2.5" height="3.6"/>
<rect x="235.12" y="654.7" width="2.5" height="3.6"/>
<rect x="240.73" y="648.5" width="2.5" height="9.8"/>
<rect x="246.34" y="651.4" width="2.5" height="6.9"/>
<rect x="251.95" y="651.8" width="2.5" height="6.5"/>
<rect x="257.55" y="655.2" width="2.5" height="3.1"/>
<rect x="263.16" y="655.2" width="2.5" height="3.1"/>
<rect x="268.77" y="655.2" width="2.5" height="3.1"/>
<rect x="274.38" y="655.2" width="2.5" height="3.1"/>
<rect x="279.99" y="655.2" width="2.5" height="3.1"/>
<rect x="285.6" y="651.4" width="2.5" height="6.9"/>
<rect x="291.21" y="655.2" width="2.5" height="3.1"/>
<rect x="296.82" y="651.4" width="2.5" height="6.9"/>
<rect x="302.42" y="655.2" width="2.5" height="3.1"/>
<rect x="308.03" y="655.2" width="2.5" height="3.1"/>
<rect x="313.64" y="655.2" width="2.5" height="3.1"/>
<rect x="319.25" y="655.2" width="2.5" height="3.1"/>
<rect class="bx" x="59.6" y="552.7" width="264.2" height="105.6"/>
<text x="100.26 112.3 123.96 134.29 147.48 165.3 170.33 188.07 198.65 209.7 219.12" y="0" transform="translate(0,531.8) scale(1.0191,1)" font-size="20" fill="#333" stroke="#333">LSSVM Model</text>
<text x="32.69" y="0" transform="translate(0,664.24) scale(1.2270,1)" font-size="13.63" fill="#6e6e6e" stroke="#6e6e6e" stroke-width="0.15">0</text>
<text x="32.8" y="0" transform="translate(0,649.12) scale(1.2270,1)" font-size="13.63" fill="#6e6e6e" stroke="#6e6e6e" stroke-width="0.15">5</text>
<text x="25.87 32.69" y="0" transform="translate(0,634.01) scale(1.2270,1)" font-size="13.63" fill="#6e6e6e" stroke="#6e6e6e" stroke-width="0.15">10</text>
<text x="25.99 32.8" y="0" transform="translate(0,618.89) scale(1.2270,1)" font-size="13.63" fill="#6e6e6e" stroke="#6e6e6e" stroke-width="0.15">15</text>
<text x="25.87 32.69" y="0" transform="translate(0,603.78) scale(1.2270,1)" font-size="13.63" fill="#6e6e6e" stroke="#6e6e6e" stroke-width="0.15">20</text>
<text x="25.99 32.8" y="0" transform="translate(0,588.67) scale(1.2270,1)" font-size="13.63" fill="#6e6e6e" stroke="#6e6e6e" stroke-width="0.15">25</text>
<text x="25.87 32.69" y="0" transform="translate(0,573.55) scale(1.2270,1)" font-size="13.63" fill="#6e6e6e" stroke="#6e6e6e" stroke-width="0.15">30</text>
<text x="25.99 32.8" y="0" transform="translate(0,558.44) scale(1.2270,1)" font-size="13.63" fill="#6e6e6e" stroke="#6e6e6e" stroke-width="0.15">35</text>
<text x="-1.33 8.73 15.68 20.18 26.85 30.41 38.77 44.09 50.75 58.11 65.61 72.29 79.61 85.65" y="0" transform="translate(11.1,680.6) rotate(-90) scale(1.2742,1)" font-size="14.66" fill="#6e6e6e" stroke="#6e6e6e">Data Frequency</text>
<text x="-0.72 6.63 11.41 19.27 23.28 31.2" y="0" transform="translate(68.6,707.7) rotate(-90) scale(1.1064,1)" font-size="15.42" fill="#333" stroke="#333" stroke-width="0.15">0-0.05</text>
<text x="-0.74 7.09 11.07 18.94 26.25 30.99 38.82 42.79" y="0" transform="translate(85,720.55) rotate(-90) scale(1.1130,1)" font-size="15.42" fill="#333" stroke="#333" stroke-width="0.15">0.15-0.2</text>
<text x="-0.74 7.09 11.07 18.38 23.12 30.95 34.92 42.79" y="0" transform="translate(101.8,720.84) rotate(-90) scale(1.1130,1)" font-size="15.42" fill="#333" stroke="#333" stroke-width="0.15">0.3-0.35</text>
<text x="-0.74 7.09 11.07 18.94 26.25 30.99 38.82 42.79" y="0" transform="translate(119,720.84) rotate(-90) scale(1.1130,1)" font-size="15.42" fill="#333" stroke="#333" stroke-width="0.15">0.45-0.5</text>
<text x="-0.74 7.09 11.07 18.38 23.12 30.95 34.92 42.79" y="0" transform="translate(136.1,720.84) rotate(-90) scale(1.1130,1)" font-size="15.42" fill="#333" stroke="#333" stroke-width="0.15">0.6-0.65</text>
<text x="-0.74 7.09 11.07 18.94 26.25 30.99 38.82 42.79" y="0" transform="translate(152.5,720.97) rotate(-90) scale(1.1130,1)" font-size="15.42" fill="#333" stroke="#333" stroke-width="0.15">0.75-0.8</text>
<text x="-0.74 7.09 11.07 18.38 23.12 30.95 34.92 42.79" y="0" transform="translate(169.2,720.84) rotate(-90) scale(1.1130,1)" font-size="15.42" fill="#333" stroke="#333" stroke-width="0.15">0.9-0.95</text>
<text x="-1.43 6.4 10.37 18.24 25.56 30.29 38.12 42.1" y="0" transform="translate(186.3,719.17) rotate(-90) scale(1.1130,1)" font-size="15.42" fill="#333" stroke="#333" stroke-width="0.15">1.05-1.1</text>
<text x="-1.43 6.4 10.37 17.69 22.42 30.25 34.23 42.1" y="0" transform="translate(203.5,720.06) rotate(-90) scale(1.1130,1)" font-size="15.42" fill="#333" stroke="#333" stroke-width="0.15">1.2-1.25</text>
<text x="-1.43 6.4 10.37 18.24 25.56 30.29 38.12 42.1" y="0" transform="translate(220.3,720.43) rotate(-90) scale(1.1130,1)" font-size="15.42" fill="#333" stroke="#333" stroke-width="0.15">1.35-1.4</text>
<text x="-1.43 6.4 10.37 17.69 22.42 30.25 34.23 42.1" y="0" transform="translate(237.4,720.06) rotate(-90) scale(1.1130,1)" font-size="15.42" fill="#333" stroke="#333" stroke-width="0.15">1.5-1.55</text>
<text x="-1.43 6.4 10.37 18.24 25.56 30.29 38.12 42.1" y="0" transform="translate(253,720.13) rotate(-90) scale(1.1130,1)" font-size="15.42" fill="#333" stroke="#333" stroke-width="0.15">1.65-1.7</text>
<text x="-0.76 7.07 11.04 18.91 26.23 30.97 38.79 42.77" y="0" transform="translate(270.9,719.92) rotate(-90) scale(1.1130,1)" font-size="15.42" fill="#333" stroke="#333" stroke-width="0.15">2.05-2.1</text>
<text x="-0.76 7.07 11.04 18.91 26.23 30.97 38.79 42.77" y="0" transform="translate(288.3,721.18) rotate(-90) scale(1.1130,1)" font-size="15.42" fill="#333" stroke="#333" stroke-width="0.15">2.35-2.4</text>
<text x="-0.76 7.07 11.04 18.91 26.23 30.97 38.79 42.77" y="0" transform="translate(304.8,720.94) rotate(-90) scale(1.1130,1)" font-size="15.42" fill="#333" stroke="#333" stroke-width="0.15">2.75-2.8</text>
<text x="-0.3 7.53 11.5 18.82 23.55 31.38 35.36 43.23" y="0" transform="translate(320.6,721.32) rotate(-90) scale(1.1130,1)" font-size="15.42" fill="#333" stroke="#333" stroke-width="0.15">4.8-4.85</text>
<text x="101.94 112.51 120.84 127.17 134.89 139.36 147.88 152.99" y="0" transform="translate(0,754.5) scale(1.0755,1)" font-size="15.88" fill="#333" stroke="#333">Absolute</text>
<text x="156.7 167.07 174.21 178.75 186.44 191.05 194.94 202.78" y="0" transform="translate(0,754.5) scale(1.1445,1)" font-size="15.88" fill="#333" stroke="#333">Relative</text>
<text x="206.92 216.44 222.23 227.44 235.31" y="0" transform="translate(0,754.5) scale(1.1795,1)" font-size="15.88" fill="#333" stroke="#333">Error</text>
<text x="241.76" y="0" transform="translate(0,754.5) scale(1.1900,1)" font-size="15.88" fill="#333" stroke="#333">(</text>
<text x="302.55" y="0" transform="translate(0,754.5) scale(0.9748,1)" font-size="15.88" fill="#333" stroke="#333">%</text>
<text x="275.06" y="0" transform="translate(0,754.5) scale(1.1251,1)" font-size="15.88" fill="#333" stroke="#333">)</text>
<rect x="410.95" y="594.9" width="2.5" height="71.4"/>
<rect x="415.52" y="581.8" width="2.5" height="84.5"/>
<rect x="420.08" y="575.2" width="2.5" height="91.1"/>
<rect x="424.65" y="581.8" width="2.5" height="84.5"/>
<rect x="429.22" y="558.9" width="2.5" height="107.4"/>
<rect x="433.78" y="614.6" width="2.5" height="51.7"/>
<rect x="438.35" y="608.1" width="2.5" height="58.2"/>
<rect x="442.92" y="604.6" width="2.5" height="61.7"/>
<rect x="447.48" y="601.5" width="2.5" height="64.8"/>
<rect x="452.05" y="627.8" width="2.5" height="38.5"/>
<rect x="456.62" y="624.6" width="2.5" height="41.7"/>
<rect x="461.18" y="637.3" width="2.5" height="29"/>
<rect x="465.75" y="627.8" width="2.5" height="38.5"/>
<rect x="470.32" y="647.2" width="2.5" height="19.1"/>
<rect x="474.88" y="627.8" width="2.5" height="38.5"/>
<rect x="479.45" y="653.8" width="2.5" height="12.5"/>
<rect x="484.02" y="624.6" width="2.5" height="41.7"/>
<rect x="488.58" y="657.1" width="2.5" height="9.2"/>
<rect x="493.15" y="634.2" width="2.5" height="32.1"/>
<rect x="497.72" y="644" width="2.5" height="22.3"/>
<rect x="502.28" y="650.4" width="2.5" height="15.9"/>
<rect x="506.85" y="653.8" width="2.5" height="12.5"/>
<rect x="511.42" y="640.7" width="2.5" height="25.6"/>
<rect x="515.98" y="659.6" width="2.5" height="6.7"/>
<rect x="520.55" y="644" width="2.5" height="22.3"/>
<rect x="525.12" y="659.2" width="2.5" height="7.1"/>
<rect x="529.68" y="653.8" width="2.5" height="12.5"/>
<rect x="534.25" y="659.6" width="2.5" height="6.7"/>
<rect x="538.82" y="662.8" width="2.5" height="3.5"/>
<rect x="543.38" y="663.3" width="2.5" height="3"/>
<rect x="547.95" y="657" width="2.5" height="9.3"/>
<rect x="552.52" y="662.7" width="2.5" height="3.6"/>
<rect x="557.08" y="662.7" width="2.5" height="3.6"/>
<rect x="561.65" y="662.7" width="2.5" height="3.6"/>
<rect x="566.22" y="662.7" width="2.5" height="3.6"/>
<rect x="570.78" y="659.6" width="2.5" height="6.7"/>
<rect x="575.35" y="662.7" width="2.5" height="3.6"/>
<rect x="579.92" y="662.7" width="2.5" height="3.6"/>
<rect x="584.48" y="662.7" width="2.5" height="3.6"/>
<rect x="589.05" y="662.7" width="2.5" height="3.6"/>
<rect x="593.62" y="662.7" width="2.5" height="3.6"/>
<rect x="598.18" y="659.6" width="2.5" height="6.7"/>
<rect x="602.75" y="659.6" width="2.5" height="6.7"/>
<rect x="607.32" y="659.6" width="2.5" height="6.7"/>
<rect x="611.88" y="662.7" width="2.5" height="3.6"/>
<rect x="616.45" y="662.7" width="2.5" height="3.6"/>
<rect x="621.02" y="662.7" width="2.5" height="3.6"/>
<rect x="625.58" y="662.7" width="2.5" height="3.6"/>
<rect x="630.15" y="662.7" width="2.5" height="3.6"/>
<rect x="634.72" y="662.7" width="2.5" height="3.6"/>
<rect x="639.28" y="662.7" width="2.5" height="3.6"/>
<rect x="643.85" y="662.7" width="2.5" height="3.6"/>
<rect x="648.42" y="662.7" width="2.5" height="3.6"/>
<rect x="652.98" y="662.7" width="2.5" height="3.6"/>
<rect x="657.55" y="662.7" width="2.5" height="3.6"/>
<rect x="662.12" y="662.7" width="2.5" height="3.6"/>
<rect x="666.68" y="662.7" width="2.5" height="3.6"/>
<rect x="671.25" y="662.7" width="2.5" height="3.6"/>
<rect class="bx" x="410.1" y="552.7" width="264.2" height="113.6"/>
<text x="464.73 477.84 489.4 494.19 511.28 521.46 532.09 541.17" y="0" transform="translate(0,526.9) scale(1.0610,1)" font-size="19.39" fill="#6e6e6e" stroke="#6e6e6e">DT Model</text>
<text x="318.52" y="0" transform="translate(0,672.78) scale(1.2270,1)" font-size="13.78" fill="#333" stroke="#333" stroke-width="0.15">0</text>
<text x="318.64" y="0" transform="translate(0,656.43) scale(1.2270,1)" font-size="13.78" fill="#333" stroke="#333" stroke-width="0.15">5</text>
<text x="311.63 318.52" y="0" transform="translate(0,640.07) scale(1.2270,1)" font-size="13.78" fill="#333" stroke="#333" stroke-width="0.15">10</text>
<text x="311.75 318.64" y="0" transform="translate(0,623.71) scale(1.2270,1)" font-size="13.78" fill="#333" stroke="#333" stroke-width="0.15">15</text>
<text x="311.63 318.52" y="0" transform="translate(0,607.36) scale(1.2270,1)" font-size="13.78" fill="#333" stroke="#333" stroke-width="0.15">20</text>
<text x="311.75 318.64" y="0" transform="translate(0,591) scale(1.2270,1)" font-size="13.78" fill="#333" stroke="#333" stroke-width="0.15">25</text>
<text x="311.63 318.52" y="0" transform="translate(0,574.64) scale(1.2270,1)" font-size="13.78" fill="#333" stroke="#333" stroke-width="0.15">30</text>
<text x="311.75 318.64" y="0" transform="translate(0,558.28) scale(1.2270,1)" font-size="13.78" fill="#333" stroke="#333" stroke-width="0.15">35</text>
<text x="-1.34 8.82 15.84 20.39 27.13 30.73 39.17 44.55 51.28 58.72 66.3 73.05 80.44 86.55" y="0" transform="translate(373.8,674.6) rotate(-90) scale(1.2429,1)" font-size="14.81" fill="#333" stroke="#333">Data Frequency</text>
<text x="-0.71 6.6 11.35 19.18 23.17 31.05" y="0" transform="translate(418.58,715.9) rotate(-90) scale(1.1064,1)" font-size="15.35" fill="#333" stroke="#333" stroke-width="0.15">0-0.05</text>
<text x="-0.73 7.06 11.02 18.29 23.01 30.8 34.76 42.59" y="0" transform="translate(437.58,728.97) rotate(-90) scale(1.1130,1)" font-size="15.35" fill="#333" stroke="#333" stroke-width="0.15">0.2-0.25</text>
<text x="-0.73 7.06 11.02 18.29 23.01 30.8 34.76 42.59" y="0" transform="translate(455.78,728.97) rotate(-90) scale(1.1130,1)" font-size="15.35" fill="#333" stroke="#333" stroke-width="0.15">0.4-0.45</text>
<text x="-0.73 7.06 11.02 18.29 23.01 30.8 34.76 42.59" y="0" transform="translate(472.58,728.97) rotate(-90) scale(1.1130,1)" font-size="15.35" fill="#333" stroke="#333" stroke-width="0.15">0.6-0.65</text>
<text x="-0.73 7.06 11.02 18.29 23.01 30.8 34.76 42.59" y="0" transform="translate(490.88,728.97) rotate(-90) scale(1.1130,1)" font-size="15.35" fill="#333" stroke="#333" stroke-width="0.15">0.8-0.85</text>
<text x="-1.41 5.91 10.66 18.48 22.47 30.35" y="0" transform="translate(509.28,715.13) rotate(-90) scale(1.1064,1)" font-size="15.35" fill="#333" stroke="#333" stroke-width="0.15">1-1.05</text>
<text x="-1.42 6.37 10.32 17.6 22.32 30.11 34.06 41.9" y="0" transform="translate(527.58,728.21) rotate(-90) scale(1.1130,1)" font-size="15.35" fill="#333" stroke="#333" stroke-width="0.15">1.2-1.25</text>
<text x="-1.42 6.37 10.32 18.16 25.44 30.15 37.94 41.9" y="0" transform="translate(545.78,728.21) rotate(-90) scale(1.1130,1)" font-size="15.35" fill="#333" stroke="#333" stroke-width="0.15">1.45-1.5</text>
<text x="-1.42 6.37 10.32 17.6 22.32 30.11 34.06 41.9" y="0" transform="translate(564.78,728.21) rotate(-90) scale(1.1130,1)" font-size="15.35" fill="#333" stroke="#333" stroke-width="0.15">1.8-1.85</text>
<text x="-0.76 7.04 10.99 18.27 22.98 30.78 34.73 42.57" y="0" transform="translate(581.58,728.95) rotate(-90) scale(1.1130,1)" font-size="15.35" fill="#333" stroke="#333" stroke-width="0.15">2.1-2.15</text>
<text x="-0.74 7.09 11.08 18.96 26.27 31.03" y="0" transform="translate(601.78,715.91) rotate(-90) scale(1.1064,1)" font-size="15.35" fill="#333" stroke="#333" stroke-width="0.15">2.95-3</text>
<text x="-0.86 6.93 10.89 18.17 22.88 30.67 34.63 42.46" y="0" transform="translate(618.88,728.83) rotate(-90) scale(1.1130,1)" font-size="15.35" fill="#333" stroke="#333" stroke-width="0.15">3.7-3.75</text>
<text x="-0.28 7.55 11.54 19.42 26.73 31.49" y="0" transform="translate(637.18,716.38) rotate(-90) scale(1.1064,1)" font-size="15.35" fill="#333" stroke="#333" stroke-width="0.15">4.95-5</text>
<text x="-0.97 6.83 10.78 18.06 22.77 30.57 34.52 42.35" y="0" transform="translate(654.98,728.71) rotate(-90) scale(1.1130,1)" font-size="15.35" fill="#333" stroke="#333" stroke-width="0.15">5.4-5.45</text>
<text x="-0.74 7.05 11 18.84 26.11 30.83 38.62 42.58" y="0" transform="translate(673.68,728.07) rotate(-90) scale(1.1130,1)" font-size="15.35" fill="#333" stroke="#333" stroke-width="0.15">8.05-8.1</text>
<text x="423.49 433.85 442.03 448.23 455.81 460.19 468.55 473.55" y="0" transform="translate(0,755.6) scale(1.1031,1)" font-size="15.57" fill="#333" stroke="#333">Absolute</text>
<text x="457.69 467.85 474.86 479.31 486.86 491.38 495.2 502.89" y="0" transform="translate(0,755.6) scale(1.1738,1)" font-size="15.57" fill="#333" stroke="#333">Relative</text>
<text x="497.91 507.25 512.93 518.04 525.76" y="0" transform="translate(0,755.6) scale(1.2097,1)" font-size="15.57" fill="#333" stroke="#333">Error</text>
<text x="529.5" y="0" transform="translate(0,755.6) scale(1.2205,1)" font-size="15.57" fill="#333" stroke="#333">(</text>
<text x="653.65" y="0" transform="translate(0,755.6) scale(0.9998,1)" font-size="15.57" fill="#333" stroke="#333">%</text>
<text x="579.03" y="0" transform="translate(0,755.6) scale(1.1539,1)" font-size="15.57" fill="#333" stroke="#333">)</text>
<rect x="238.65" y="824.1" width="2.5" height="95.2"/>
<rect x="243.49" y="829.9" width="2.5" height="89.4"/>
<rect x="248.33" y="824.1" width="2.5" height="95.2"/>
<rect x="253.16" y="841.6" width="2.5" height="77.7"/>
<rect x="258" y="850.3" width="2.5" height="69"/>
<rect x="262.84" y="844.9" width="2.5" height="74.4"/>
<rect x="267.68" y="841.6" width="2.5" height="77.7"/>
<rect x="272.51" y="871.1" width="2.5" height="48.2"/>
<rect x="277.35" y="871.5" width="2.5" height="47.8"/>
<rect x="282.19" y="874.4" width="2.5" height="44.9"/>
<rect x="287.03" y="881" width="2.5" height="38.3"/>
<rect x="291.87" y="877.6" width="2.5" height="41.7"/>
<rect x="296.7" y="907.3" width="2.5" height="12"/>
<rect x="301.54" y="898.5" width="2.5" height="20.8"/>
<rect x="306.38" y="886.4" width="2.5" height="32.9"/>
<rect x="311.22" y="898.5" width="2.5" height="20.8"/>
<rect x="316.05" y="903.6" width="2.5" height="15.7"/>
<rect x="320.89" y="889.8" width="2.5" height="29.5"/>
<rect x="325.73" y="901.8" width="2.5" height="17.5"/>
<rect x="330.57" y="910.3" width="2.5" height="9"/>
<rect x="335.4" y="910.4" width="2.5" height="8.9"/>
<rect x="340.24" y="907" width="2.5" height="12.3"/>
<rect x="345.08" y="915.9" width="2.5" height="3.4"/>
<rect x="349.92" y="898.4" width="2.5" height="20.9"/>
<rect x="354.76" y="910.4" width="2.5" height="8.9"/>
<rect x="359.59" y="914" width="2.5" height="5.3"/>
<rect x="364.43" y="914" width="2.5" height="5.3"/>
<rect x="369.27" y="914" width="2.5" height="5.3"/>
<rect x="374.11" y="914" width="2.5" height="5.3"/>
<rect x="378.94" y="914" width="2.5" height="5.3"/>
<rect x="383.78" y="916.2" width="2.5" height="3.1"/>
<rect x="388.62" y="916.2" width="2.5" height="3.1"/>
<rect x="393.46" y="916.2" width="2.5" height="3.1"/>
<rect x="398.3" y="914" width="2.5" height="5.3"/>
<rect x="403.13" y="914" width="2.5" height="5.3"/>
<rect x="407.97" y="916.2" width="2.5" height="3.1"/>
<rect x="412.81" y="914" width="2.5" height="5.3"/>
<rect x="417.65" y="914" width="2.5" height="5.3"/>
<rect x="422.48" y="916.2" width="2.5" height="3.1"/>
<rect x="427.32" y="916.2" width="2.5" height="3.1"/>
<rect x="432.16" y="916.2" width="2.5" height="3.1"/>
<rect x="437" y="916.2" width="2.5" height="3.1"/>
<rect x="441.83" y="916.2" width="2.5" height="3.1"/>
<rect x="446.67" y="916.2" width="2.5" height="3.1"/>
<rect x="451.51" y="916.2" width="2.5" height="3.1"/>
<rect x="456.35" y="914" width="2.5" height="5.3"/>
<rect x="461.19" y="916.2" width="2.5" height="3.1"/>
<rect x="466.02" y="916.2" width="2.5" height="3.1"/>
<rect x="470.86" y="916.2" width="2.5" height="3.1"/>
<rect x="475.7" y="916.2" width="2.5" height="3.1"/>
<rect x="480.54" y="916.2" width="2.5" height="3.1"/>
<rect x="485.37" y="916.2" width="2.5" height="3.1"/>
<rect x="490.21" y="914" width="2.5" height="5.3"/>
<rect x="495.05" y="916.2" width="2.5" height="3.1"/>
<rect class="bx" x="237.6" y="816" width="260.9" height="103.3"/>
<text x="304.87 317.63 328.79 333.38 350.31 360.34 370.84 379.82" y="0" transform="translate(0,785.7) scale(1.0862,1)" font-size="19.54" fill="#333" stroke="#333">RF Model</text>
<text x="177.45" y="0" transform="translate(0,924.74) scale(1.2270,1)" font-size="13.04" fill="#333" stroke="#333" stroke-width="0.15">0</text>
<text x="177.56" y="0" transform="translate(0,909.93) scale(1.2270,1)" font-size="13.04" fill="#333" stroke="#333" stroke-width="0.15">5</text>
<text x="170.93 177.45" y="0" transform="translate(0,895.11) scale(1.2270,1)" font-size="13.04" fill="#333" stroke="#333" stroke-width="0.15">10</text>
<text x="171.04 177.56" y="0" transform="translate(0,880.3) scale(1.2270,1)" font-size="13.04" fill="#333" stroke="#333" stroke-width="0.15">15</text>
<text x="170.93 177.45" y="0" transform="translate(0,865.49) scale(1.2270,1)" font-size="13.04" fill="#333" stroke="#333" stroke-width="0.15">20</text>
<text x="171.04 177.56" y="0" transform="translate(0,850.67) scale(1.2270,1)" font-size="13.04" fill="#333" stroke="#333" stroke-width="0.15">25</text>
<text x="170.93 177.45" y="0" transform="translate(0,835.86) scale(1.2270,1)" font-size="13.04" fill="#333" stroke="#333" stroke-width="0.15">30</text>
<text x="171.04 177.56" y="0" transform="translate(0,821.04) scale(1.2270,1)" font-size="13.04" fill="#333" stroke="#333" stroke-width="0.15">35</text>
<text x="-1.29 8.7 15.6 20.09 26.71 30.03 34.87 40.17 46.79 54.12 61.58 68.22 75.5 81.51" y="0" transform="translate(186.9,941) rotate(-90) scale(1.2647,1)" font-size="14.5" fill="#333" stroke="#333">Data frequency</text>
<text x="-0.72 6.66 11.46 19.36 23.39 31.35" y="0" transform="translate(247.13,968.5) rotate(-90) scale(1.1064,1)" font-size="15.49" fill="#333" stroke="#333" stroke-width="0.15">0-0.05</text>
<text x="-0.74 7.13 11.12 18.47 23.23 31.09 35.09 43" y="0" transform="translate(265.73,981.7) rotate(-90) scale(1.1130,1)" font-size="15.49" fill="#333" stroke="#333" stroke-width="0.15">0.2-0.25</text>
<text x="-0.74 7.13 11.12 18.47 23.23 31.09 35.09 43" y="0" transform="translate(285.13,981.7) rotate(-90) scale(1.1130,1)" font-size="15.49" fill="#333" stroke="#333" stroke-width="0.15">0.4-0.45</text>
<text x="-0.74 7.13 11.12 18.47 23.23 31.09 35.09 43" y="0" transform="translate(304.83,981.7) rotate(-90) scale(1.1130,1)" font-size="15.49" fill="#333" stroke="#333" stroke-width="0.15">0.6-0.65</text>
<text x="-0.74 7.13 11.12 18.47 23.23 31.09 35.09 43" y="0" transform="translate(324.13,981.7) rotate(-90) scale(1.1130,1)" font-size="15.49" fill="#333" stroke="#333" stroke-width="0.15">0.8-0.85</text>
<text x="-1.42 5.96 10.76 18.66 22.69 30.64" y="0" transform="translate(342.93,967.72) rotate(-90) scale(1.1064,1)" font-size="15.49" fill="#333" stroke="#333" stroke-width="0.15">1-1.05</text>
<text x="-1.44 6.43 10.42 17.77 22.53 30.4 34.39 42.3" y="0" transform="translate(362.63,980.92) rotate(-90) scale(1.1130,1)" font-size="15.49" fill="#333" stroke="#333" stroke-width="0.15">1.2-1.25</text>
<text x="-1.44 6.43 10.42 17.77 22.53 30.4 34.39 42.3" y="0" transform="translate(381.63,980.92) rotate(-90) scale(1.1130,1)" font-size="15.49" fill="#333" stroke="#333" stroke-width="0.15">1.4-1.45</text>
<text x="-1.44 6.43 10.42 18.33 25.68 30.44 38.31 42.3" y="0" transform="translate(401.33,980.99) rotate(-90) scale(1.1130,1)" font-size="15.49" fill="#333" stroke="#333" stroke-width="0.15">1.65-1.7</text>
<text x="-1.44 6.43 10.42 17.77 22.53 30.4 34.39 42.3" y="0" transform="translate(420.63,980.92) rotate(-90) scale(1.1130,1)" font-size="15.49" fill="#333" stroke="#333" stroke-width="0.15">1.9-1.95</text>
<text x="-0.76 7.1 11.1 18.44 23.2 31.07 35.06 42.97" y="0" transform="translate(438.53,981.67) rotate(-90) scale(1.1130,1)" font-size="15.49" fill="#333" stroke="#333" stroke-width="0.15">2.3-2.35</text>
<text x="-0.76 7.1 11.1 19 26.35 31.11 38.98 42.97" y="0" transform="translate(458.73,981.81) rotate(-90) scale(1.1130,1)" font-size="15.49" fill="#333" stroke="#333" stroke-width="0.15">2.75-2.8</text>
<text x="-0.87 7 10.99 18.9 26.25 31.01 38.88 42.87" y="0" transform="translate(477.93,981.75) rotate(-90) scale(1.1130,1)" font-size="15.49" fill="#333" stroke="#333" stroke-width="0.15">3.55-3.6</text>
<text x="-0.98 6.89 10.88 18.23 22.99 30.86 34.85 42.76" y="0" transform="translate(498.43,981.44) rotate(-90) scale(1.1130,1)" font-size="15.49" fill="#333" stroke="#333" stroke-width="0.15">5.5-5.55</text>
<text x="266.02 276.69 285.1 291.49 299.29 303.8 312.41 317.56" y="0" transform="translate(0,1015) scale(1.0726,1)" font-size="16.03" fill="#333" stroke="#333">Absolute</text>
<text x="311.47 321.94 329.15 333.73 341.5 346.16 350.08 358" y="0" transform="translate(0,1015) scale(1.1414,1)" font-size="16.03" fill="#333" stroke="#333">Relative</text>
<text x="357.62 367.23 373.08 378.34 386.28" y="0" transform="translate(0,1015) scale(1.1763,1)" font-size="16.03" fill="#333" stroke="#333">Error</text>
<text x="391.5" y="0" transform="translate(0,1015) scale(1.1867,1)" font-size="16.03" fill="#333" stroke="#333">(</text>
<text x="485.4" y="0" transform="translate(0,1015) scale(0.9722,1)" font-size="16.03" fill="#333" stroke="#333">%</text>
<text x="433.62" y="0" transform="translate(0,1015) scale(1.1220,1)" font-size="16.03" fill="#333" stroke="#333">)</text>
</svg>
</body></html>
